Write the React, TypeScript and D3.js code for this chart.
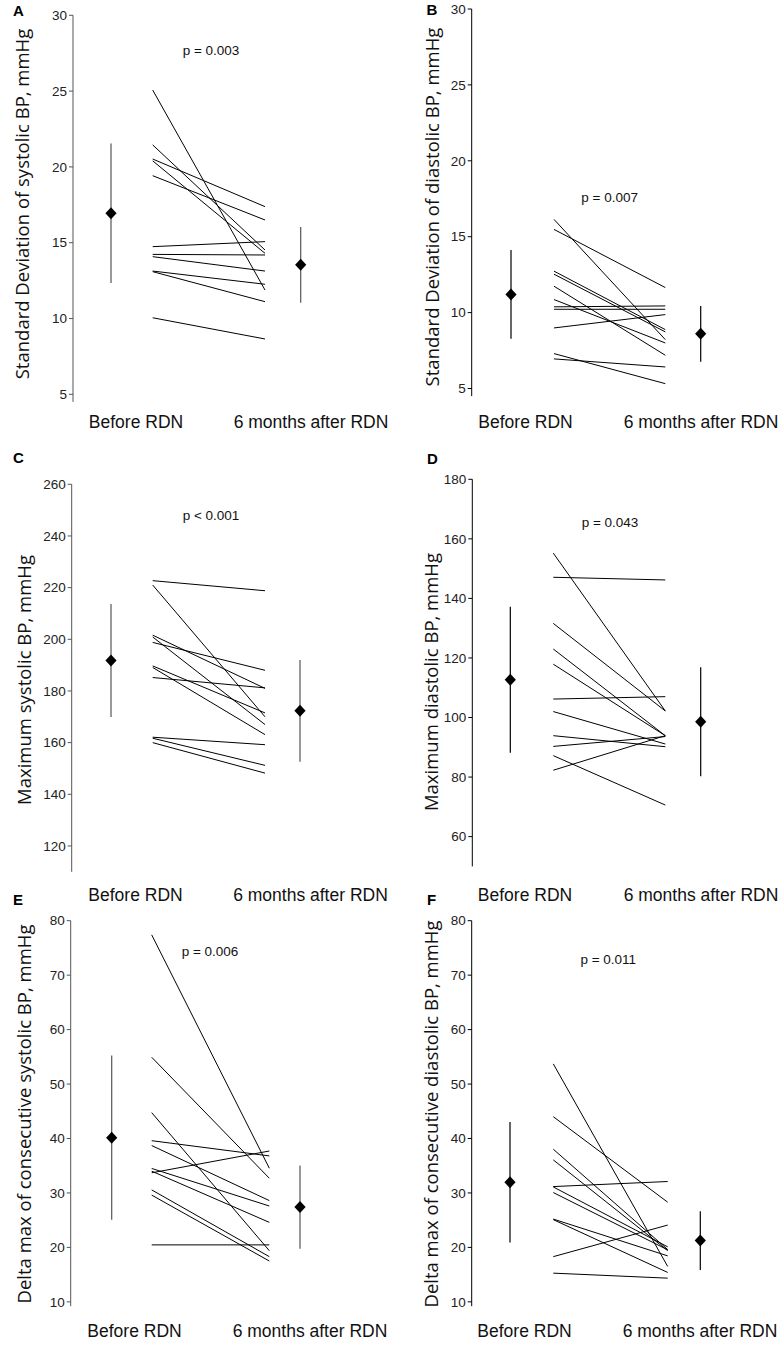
import React from "react";
import * as d3 from "d3";

// ---------- data ----------
const categories = ["Before RDN", "6 months after RDN"];

// A: SD of systolic BP
const sdSysBefore = [25.07, 21.45, 20.52, 20.4, 19.42, 14.74, 14.23, 14.08, 13.13, 13.09, 10.05];
const sdSysAfter = [11.88, 14.52, 17.38, 14.3, 16.5, 15.07, 14.19, 13.13, 12.26, 11.11, 8.65];
const sdSysMean = [16.95, 13.54];
const sdSysSD = [4.6, 2.5];
const sdSysTicks = [5, 10, 15, 20, 25, 30];

// B: SD of diastolic BP
const sdDiaBefore = [16.14, 15.48, 12.73, 12.53, 11.74, 10.86, 10.38, 10.22, 8.99, 7.3, 6.95];
const sdDiaAfter = [8.22, 11.65, 8.88, 8.73, 7.19, 8.0, 10.44, 10.22, 9.87, 5.32, 6.42];
const sdDiaMean = [11.2, 8.6];
const sdDiaSD = [2.93, 1.84];
const sdDiaTicks = [5, 10, 15, 20, 25, 30];

// C: Maximum systolic BP
const maxSysBefore = [222.7, 221.0, 201.6, 200.9, 198.8, 189.7, 189.1, 185.2, 162.1, 161.7, 160.0];
const maxSysAfter = [218.8, 170.0, 181.0, 167.0, 188.0, 171.5, 163.1, 181.2, 159.2, 151.2, 148.2];
const maxSysMean = [191.8, 172.3];
const maxSysSD = [21.9, 19.7];
const maxSysTicks = [120, 140, 160, 180, 200, 220, 240, 260];

// D: Maximum diastolic BP
const maxDiaBefore = [155.2, 147.1, 131.6, 123.0, 117.9, 106.2, 102.0, 93.9, 90.3, 87.2, 82.3];
const maxDiaAfter = [102.2, 146.2, 102.2, 93.9, 93.9, 107.0, 91.1, 90.2, 93.6, 70.6, 93.9];
const maxDiaMean = [112.7, 98.6];
const maxDiaSD = [24.5, 18.3];
const maxDiaTicks = [60, 80, 100, 120, 140, 160, 180];

// E: Delta max of consecutive systolic BP
const dSysBefore = [77.4, 54.92, 44.75, 39.6, 38.7, 34.5, 34.0, 33.7, 30.56, 29.6, 20.46];
const dSysAfter = [34.54, 32.7, 19.4, 36.8, 28.6, 27.6, 24.6, 37.7, 18.3, 17.5, 20.46];
const dSysMean = [40.16, 27.4];
const dSysSD = [15.1, 7.65];
const dSysTicks = [10, 20, 30, 40, 50, 60, 70, 80];

// F: Delta max of consecutive diastolic BP
const dDiaBefore = [53.7, 44.0, 38.03, 36.07, 31.17, 31.1, 30.07, 25.2, 25.1, 18.3, 15.27];
const dDiaAfter = [16.5, 28.3, 19.6, 19.4, 32.1, 20.1, 19.55, 18.44, 15.4, 24.1, 14.35];
const dDiaMean = [31.96, 21.25];
const dDiaSD = [11.05, 5.4];
const dDiaTicks = [10, 20, 30, 40, 50, 60, 70, 80];

const letters = ["A", "B", "C", "D", "E", "F"];
const yTitles = [
  "Standard Deviation of systolic BP, mmHg",
  "Standard Deviation of diastolic BP, mmHg",
  "Maximum systolic BP, mmHg",
  "Maximum diastolic BP, mmHg",
  "Delta max of consecutive systolic BP, mmHg",
  "Delta max of consecutive diastolic BP, mmHg",
];
const pTexts = ["p = 0.003", "p = 0.007", "p < 0.001", "p = 0.043", "p = 0.006", "p = 0.011"];

// ---------- layout ----------
const W = 783;
const H = 1348;

const panels = [
  {
    before: sdSysBefore, after: sdSysAfter, mean: sdSysMean, sd: sdSysSD, ticks: sdSysTicks,
    domain: [4.5, 30], range: [401.9, 15.3], axisX: 73,
    xLines: [152.7, 265], xMeans: [111, 300.7], xCats: [136, 311], catY: 428,
    pX: 211, pY: 55, letterX: 13, letterY: 15.5, titleX: 21, titleY: 204, color: "#555",
  },
  {
    before: sdDiaBefore, after: sdDiaAfter, mean: sdDiaMean, sd: sdDiaSD, ticks: sdDiaTicks,
    domain: [4.5, 30], range: [396.1, 9], axisX: 471.7,
    xLines: [554, 665.3], xMeans: [511, 700.7], xCats: [525.5, 701], catY: 428.3,
    pX: 609.7, pY: 201.7, letterX: 426.5, letterY: 15, titleX: 431, titleY: 207, color: "#000",
  },
  {
    before: maxSysBefore, after: maxSysAfter, mean: maxSysMean, sd: maxSysSD, ticks: maxSysTicks,
    domain: [110, 260], range: [871.8, 484.3], axisX: 71.7,
    xLines: [152.7, 265], xMeans: [111, 300], xCats: [135.5, 310.5], catY: 900.5,
    pX: 211, pY: 520, letterX: 13, letterY: 463, titleX: 23, titleY: 680, color: "#555",
  },
  {
    before: maxDiaBefore, after: maxDiaAfter, mean: maxDiaMean, sd: maxDiaSD, ticks: maxDiaTicks,
    domain: [50, 180], range: [866.4, 479.3], axisX: 472.3,
    xLines: [553.3, 665.3], xMeans: [510.3, 700.7], xCats: [525, 701], catY: 900.5,
    pX: 610, pY: 527.3, letterX: 427, letterY: 464, titleX: 430, titleY: 682, color: "#000",
  },
  {
    before: dSysBefore, after: dSysAfter, mean: dSysMean, sd: dSysSD, ticks: dSysTicks,
    domain: [9.2, 80], range: [1306.2, 920.7], axisX: 70.7,
    xLines: [151.7, 269.3], xMeans: [111.7, 300], xCats: [134.5, 310], catY: 1336.7,
    pX: 210, pY: 955.7, letterX: 13, letterY: 905, titleX: 23, titleY: 1114, color: "#555",
  },
  {
    before: dDiaBefore, after: dDiaAfter, mean: dDiaMean, sd: dDiaSD, ticks: dDiaTicks,
    domain: [9.2, 80], range: [1306.2, 920.7], axisX: 471.7,
    xLines: [553.3, 667.7], xMeans: [510, 700.3], xCats: [524.5, 700], catY: 1336.7,
    pX: 608.3, pY: 964, letterX: 427, letterY: 905, titleX: 430, titleY: 1114, color: "#000",
  },
];

const TICK_FONT = "'Liberation Sans', Arial, Helvetica, sans-serif";
const TITLE_FONT = "'Open Sans', 'Noto Sans', sans-serif";

const diamond = d3.line()([
  [0, -6],
  [5.6, 0],
  [0, 6],
  [-5.6, 0],
]) + "Z";

function Panel({ p, i }: { p: any; i: number }) {
  const y = d3.scaleLinear().domain(p.domain).range(p.range);
  const xLine = d3.scalePoint().domain(categories).range(p.xLines);
  const xMean = d3.scalePoint().domain(categories).range(p.xMeans);
  const xCat = d3.scalePoint().domain(categories).range(p.xCats);
  const [y0, y1] = p.range;
  return (
    <g>
      {/* y axis */}
      <line x1={p.axisX} x2={p.axisX} y1={y0} y2={y1} stroke={p.color} strokeWidth={1} />
      {p.ticks.map((t: number) => (
        <g key={t} transform={`translate(${p.axisX},${y(t)})`}>
          <line x1={-4} x2={0} stroke={p.color} strokeWidth={1} />
          <text x={-6} dy="0.35em" textAnchor="end" fontFamily={TICK_FONT} fontSize={13.5} fill="#222">
            {t}
          </text>
        </g>
      ))}
      {/* y title */}
      <text
        transform={`translate(${p.titleX},${p.titleY}) rotate(-90)`}
        textAnchor="middle"
        dominantBaseline="central"
        fontFamily={TITLE_FONT}
        fontSize={18.5}
        fill="#111"
      >
        {yTitles[i]}
      </text>
      {/* panel letter */}
      <text x={p.letterX} y={p.letterY} fontFamily={TICK_FONT} fontWeight="bold" fontSize={15} fill="#000">
        {letters[i]}
      </text>
      {/* p value */}
      <text x={p.pX} y={p.pY} textAnchor="middle" fontFamily={TICK_FONT} fontSize={13.5} fill="#111">
        {pTexts[i]}
      </text>
      {/* individual lines */}
      {p.before.map((b: number, k: number) => (
        <line
          key={k}
          x1={xLine(categories[0])}
          x2={xLine(categories[1])}
          y1={y(b)}
          y2={y(p.after[k])}
          stroke="#000"
          strokeWidth={1}
        />
      ))}
      {/* means with error bars */}
      {categories.map((c, k) => (
        <g key={c}>
          <line
            x1={xMean(c)}
            x2={xMean(c)}
            y1={y(p.mean[k] - p.sd[k])}
            y2={y(p.mean[k] + p.sd[k])}
            stroke={p.color}
            strokeWidth={1.2}
          />
          <path d={diamond} transform={`translate(${xMean(c)},${y(p.mean[k])})`} fill="#000" />
        </g>
      ))}
      {/* category labels */}
      {categories.map((c) => (
        <text key={c} x={xCat(c)} y={p.catY} textAnchor="middle" fontFamily={TICK_FONT} fontSize={17.5} fill="#111">
          {c}
        </text>
      ))}
    </g>
  );
}

export default function App() {
  return (
    <svg
      width={W}
      height={H}
      viewBox={`0 0 ${W} ${H}`}
      style={{ position: "absolute", left: 0, top: 0, background: "#fff" }}
    >
      <rect width={W} height={H} fill="#fff" />
      {panels.map((p, i) => (
        <Panel key={i} p={p} i={i} />
      ))}
    </svg>
  );
}
